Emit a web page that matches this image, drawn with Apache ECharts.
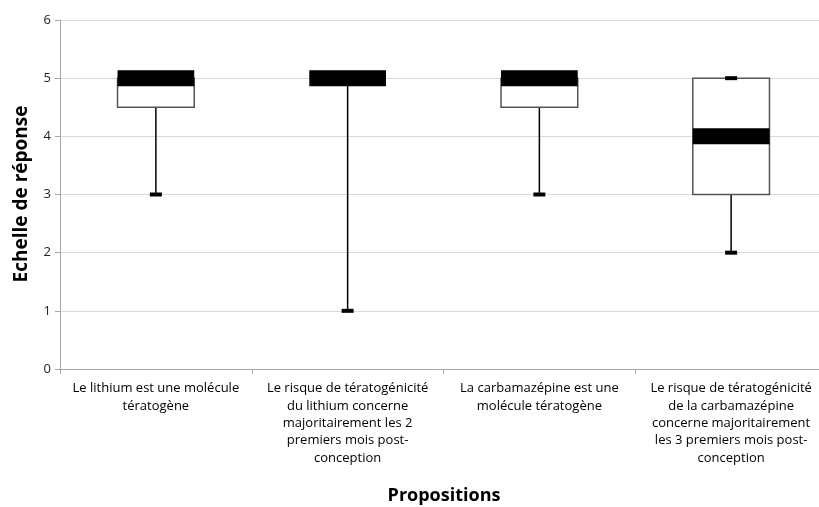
<!DOCTYPE html>
<html>
<head>
<meta charset="utf-8">
<script src="https://cdn.jsdelivr.net/npm/echarts@6/dist/echarts.min.js"></script>
<style>html,body{margin:0;padding:0;background:#fff}#c{width:819px;height:507px}</style>
</head>
<body>
<div id="c"></div>
<script>
const categories = [
  "Le lithium est une molécule\ntératogène",
  "Le risque de tératogénicité\ndu lithium concerne\nmajoritairement les 2\npremiers mois post-\nconception",
  "La carbamazépine est une\nmolécule tératogène",
  "Le risque de tératogénicité\nde la carbamazépine\nconcerne majoritairement\nles 3 premiers mois post-\nconception"
];
const minValues    = [3, 1, 3, 2];
const q1Values     = [4.5, 5, 4.5, 3];
const medianValues = [5, 5, 5, 4];
const q3Values     = [5, 5, 5, 5];
const maxValues    = [5, 5, 5, 5];
const yTicks = [0, 1, 2, 3, 4, 5, 6];

const data = categories.map((c, i) => [i, minValues[i], q1Values[i], medianValues[i], q3Values[i], maxValues[i]]);

const FONT = "Open Sans";
const chart = echarts.init(document.getElementById('c'));
chart.setOption({
  animation: false,
  textStyle: { fontFamily: FONT },
  grid: { left: 60, right: -8, top: 20, bottom: 138, outerBoundsMode: 'none', containLabel: false },
  xAxis: {
    type: 'category',
    data: categories,
    axisLine: { lineStyle: { color: '#a6a6a6', width: 1 } },
    axisTick: { show: true, length: 5, lineStyle: { color: '#a6a6a6' } },
    axisLabel: { interval: 0, color: '#000', fontSize: 13, lineHeight: 17.3, margin: 11, fontFamily: FONT },
    splitLine: { show: false }
  },
  yAxis: {
    type: 'value',
    min: yTicks[0], max: yTicks[yTicks.length - 1], interval: 1,
    axisLine: { show: true, lineStyle: { color: '#a6a6a6', width: 1 } },
    axisTick: { show: true, length: 5, lineStyle: { color: '#a6a6a6' } },
    axisLabel: { color: '#222', fontSize: 13, margin: 9, fontFamily: FONT },
    splitLine: { lineStyle: { color: '#d9d9d9', width: 1 } }
  },
  graphic: [
    { type: 'text', x: 22, y: 194, rotation: Math.PI / 2,
      style: { text: 'Echelle de réponse', font: 'bold 19px "' + FONT + '"', fill: '#000', textAlign: 'center', textVerticalAlign: 'middle' } },
    { type: 'text', x: 444, y: 496,
      style: { text: 'Propositions', font: 'bold 18px "' + FONT + '"', fill: '#000', textAlign: 'center', textVerticalAlign: 'middle' } }
  ],
  series: [{
    type: 'custom',
    data: data,
    encode: { x: 0, y: [1, 2, 3, 4, 5] },
    renderItem: function (params, api) {
      const idx = api.value(0);
      const vmin = api.coord([idx, api.value(1)]);
      const vq1 = api.coord([idx, api.value(2)]);
      const vmed = api.coord([idx, api.value(3)]);
      const vq3 = api.coord([idx, api.value(4)]);
      const vmax = api.coord([idx, api.value(5)]);
      const bw = api.size([1, 0])[0] * 0.40;
      const cx = vmed[0];
      const children = [];
      children.push({ type: 'line', shape: { x1: cx, y1: vq1[1], x2: cx, y2: vmin[1] }, style: { stroke: '#000', lineWidth: 1.5 } });
      children.push({ type: 'line', shape: { x1: cx, y1: vq3[1], x2: cx, y2: vmax[1] }, style: { stroke: '#000', lineWidth: 1.5 } });
      if (vq1[1] - vq3[1] > 0.5) {
        children.push({ type: 'rect', shape: { x: cx - bw / 2, y: vq3[1], width: bw, height: vq1[1] - vq3[1] }, style: { fill: '#fff', stroke: '#555', lineWidth: 1.5 } });
      }
      const capW = 12, capH = 4;
      children.push({ type: 'rect', shape: { x: cx - capW / 2, y: vmin[1] - capH / 2, width: capW, height: capH }, style: { fill: '#000' } });
      children.push({ type: 'rect', shape: { x: cx - capW / 2, y: vmax[1] - capH / 2, width: capW, height: capH }, style: { fill: '#000' } });
      const bandH = 16;
      children.push({ type: 'rect', shape: { x: cx - bw / 2, y: vmed[1] - bandH / 2, width: bw, height: bandH }, style: { fill: '#000' } });
      return { type: 'group', children: children };
    }
  }]
});
</script>
</body>
</html>
